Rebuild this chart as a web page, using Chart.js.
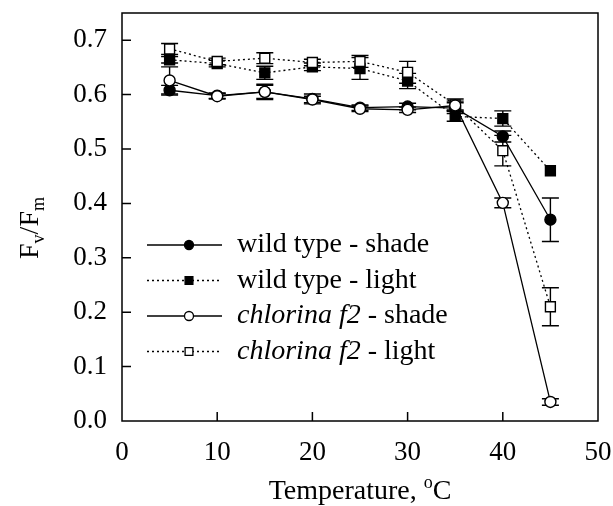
<!DOCTYPE html>
<html>
<head>
<meta charset="utf-8">
<script src="https://cdn.jsdelivr.net/npm/chart.js@4.4.1/dist/chart.umd.min.js"></script>
<style>
  body { margin: 0; background: #fff; }
  #wrap { width: 613px; height: 506px; }
</style>
</head>
<body>
<div id="wrap"><canvas id="chart" width="613" height="506"></canvas></div>
<script>
// temperatures, degrees C
const temps = [5, 10, 15, 20, 25, 30, 35, 40, 45];

// Fv/Fm means
const wildShade     = [0.608, 0.598, 0.605, 0.592, 0.576, 0.578, 0.575, 0.523, 0.370];
const wildLight     = [0.664, 0.657, 0.640, 0.651, 0.648, 0.625, 0.560, 0.556, 0.460];
const chlorinaShade = [0.626, 0.597, 0.605, 0.591, 0.574, 0.572, 0.580, 0.401, 0.035];
const chlorinaLight = [0.684, 0.661, 0.667, 0.659, 0.661, 0.641, 0.581, 0.497, 0.210];

// error bars (+/-)
const wildShadeErr     = [0.009, 0.005, 0.014, 0.009, 0.005, 0.006, 0.010, 0.010, 0.040];
const wildLightErr     = [0.006, 0.006, 0.012, 0.007, 0.020, 0.014, 0.009, 0.014, 0.000];
const chlorinaShadeErr = [0.025, 0.005, 0.012, 0.006, 0.005, 0.005, 0.008, 0.009, 0.006];
const chlorinaLightErr = [0.010, 0.006, 0.010, 0.006, 0.011, 0.020, 0.011, 0.028, 0.035];

const yTicks = [0, 0.1, 0.2, 0.3, 0.4, 0.5, 0.6, 0.7];
const xTicks = [0, 10, 20, 30, 40, 50];

const FONT = 'Liberation Serif, Times New Roman, serif';
const pts = vals => vals.map((v, i) => ({ x: temps[i], y: v }));

const series = [
  { label: 'wild type - shade', data: pts(wildShade), errors: wildShadeErr,
    dash: [], pointStyle: 'circle', fill: '#000', r: 5.5, lr: 4.5, order: 1, italic: '', rest: 'wild type - shade' },
  { label: 'wild type - light', data: pts(wildLight), errors: wildLightErr,
    dash: [2, 3], pointStyle: 'rect', fill: '#000', r: 7, lr: 5.5, order: 1, italic: '', rest: 'wild type - light' },
  { label: 'chlorina f2 - shade', data: pts(chlorinaShade), errors: chlorinaShadeErr,
    dash: [], pointStyle: 'circle', fill: '#fff', r: 5.5, lr: 4.5, order: 0, italic: 'chlorina f2', rest: ' - shade' },
  { label: 'chlorina f2 - light', data: pts(chlorinaLight), errors: chlorinaLightErr,
    dash: [2, 3], pointStyle: 'rect', fill: '#fff', r: 7, lr: 5.5, order: 0, italic: 'chlorina f2', rest: ' - light' }
];

const errorBars = {
  id: 'errorBars',
  beforeDatasetsDraw(chart) {
    const ctx = chart.ctx, xs = chart.scales.x, ys = chart.scales.y;
    ctx.save();
    ctx.strokeStyle = '#000';
    ctx.lineWidth = 1.4;
    chart.data.datasets.forEach(ds => {
      ds.errors.forEach((e, i) => {
        if (!e) return;
        const px = xs.getPixelForValue(ds.data[i].x);
        const top = ys.getPixelForValue(ds.data[i].y + e);
        const bot = ys.getPixelForValue(ds.data[i].y - e);
        ctx.beginPath();
        ctx.moveTo(px, top); ctx.lineTo(px, bot);
        ctx.moveTo(px - 8.5, top); ctx.lineTo(px + 8.5, top);
        ctx.moveTo(px - 8.5, bot); ctx.lineTo(px + 8.5, bot);
        ctx.stroke();
      });
    });
    ctx.restore();
  }
};

// box, inward ticks, axis titles and legend
const decorations = {
  id: 'decorations',
  afterDraw(chart) {
    const ctx = chart.ctx, a = chart.chartArea;
    const xs = chart.scales.x, ys = chart.scales.y;
    ctx.save();
    ctx.strokeStyle = '#000';
    ctx.fillStyle = '#000';
    ctx.lineWidth = 1.5;
    ctx.strokeRect(a.left, a.top, a.right - a.left, a.bottom - a.top);

    ctx.beginPath();
    yTicks.slice(1).forEach(v => {
      const py = ys.getPixelForValue(v);
      ctx.moveTo(a.left, py); ctx.lineTo(a.left + 9, py);
    });
    xTicks.slice(1, -1).forEach(v => {
      const px = xs.getPixelForValue(v);
      ctx.moveTo(px, a.bottom); ctx.lineTo(px, a.bottom - 9);
    });
    ctx.stroke();

    // x title: Temperature, oC
    ctx.textBaseline = 'alphabetic';
    const big = '28px ' + FONT, small = '18px ' + FONT;
    const t1 = 'Temperature, ', t2 = 'o', t3 = 'C';
    ctx.font = big; const w1 = ctx.measureText(t1).width, w3 = ctx.measureText(t3).width;
    ctx.font = small; const w2 = ctx.measureText(t2).width;
    let x0 = (a.left + a.right) / 2 - (w1 + w2 + w3) / 2;
    const by = 499;
    ctx.font = big; ctx.fillText(t1, x0, by); x0 += w1;
    ctx.font = small; ctx.fillText(t2, x0, by - 11); x0 += w2;
    ctx.font = big; ctx.fillText(t3, x0, by);

    // y title: Fv/Fm
    ctx.save();
    ctx.translate(38, 228);
    ctx.rotate(-Math.PI / 2);
    const parts = [['F', big, 0], ['v', small, 6], ['/F', big, 0], ['m', small, 6]];
    let tw = 0;
    parts.forEach(p => { ctx.font = p[1]; tw += ctx.measureText(p[0]).width; });
    let lx = -tw / 2;
    parts.forEach(p => {
      ctx.font = p[1];
      ctx.fillText(p[0], lx, p[2]);
      lx += ctx.measureText(p[0]).width;
    });
    ctx.restore();

    // legend
    series.forEach((s, i) => {
      const ry = a.top + 232 + i * 35.5;
      ctx.lineWidth = 1.3;
      ctx.setLineDash(s.dash);
      ctx.beginPath();
      ctx.moveTo(a.left + 25, ry); ctx.lineTo(a.left + 100, ry);
      ctx.stroke();
      ctx.setLineDash([]);
      ctx.fillStyle = s.fill;
      ctx.lineWidth = 1.3;
      Chart.helpers.drawPoint(ctx, { pointStyle: s.pointStyle, radius: s.lr, borderWidth: 1.3, rotation: 0 },
        a.left + 67, ry);
      ctx.fillStyle = '#000';
      ctx.textBaseline = 'middle';
      let tx = a.left + 115;
      if (s.italic) {
        ctx.font = 'italic 28px ' + FONT;
        ctx.fillText(s.italic, tx, ry);
        tx += ctx.measureText(s.italic).width;
      }
      ctx.font = big;
      ctx.fillText(s.rest, tx, ry);
    });
    ctx.restore();
  }
};

new Chart(document.getElementById('chart'), {
  type: 'line',
  data: {
    datasets: series.map(s => ({
      label: s.label,
      data: s.data,
      errors: s.errors,
      order: s.order,
      borderColor: '#000',
      borderWidth: 1.3,
      borderDash: s.dash,
      pointStyle: s.pointStyle,
      pointRadius: s.r,
      pointBorderWidth: 1.4,
      pointBackgroundColor: s.fill,
      pointBorderColor: '#000',
      tension: 0,
      fill: false
    }))
  },
  options: {
    responsive: false,
    animation: false,
    layout: { padding: { top: 13, right: 15, left: 0, bottom: 0 } },
    plugins: { legend: { display: false }, tooltip: { enabled: false } },
    scales: {
      x: {
        type: 'linear', min: 0, max: 50,
        grid: { display: false, drawTicks: false },
        border: { display: false },
        ticks: { stepSize: 10, padding: 16, maxRotation: 0, color: '#000', font: { family: FONT, size: 27 } },
        afterFit: s => { s.height = 85; s.paddingLeft = 0; s.paddingRight = 0; }
      },
      y: {
        min: 0, max: 0.75,
        grid: { display: false, drawTicks: false },
        border: { display: false },
        afterBuildTicks: s => { s.ticks = yTicks.map(v => ({ value: v })); },
        ticks: { padding: 15, color: '#000', font: { family: FONT, size: 27 },
          callback: v => v.toFixed(1) },
        afterFit: s => { s.width = 122; s.paddingTop = 0; s.paddingBottom = 0; }
      }
    }
  },
  plugins: [errorBars, decorations]
});
</script>
</body>
</html>
